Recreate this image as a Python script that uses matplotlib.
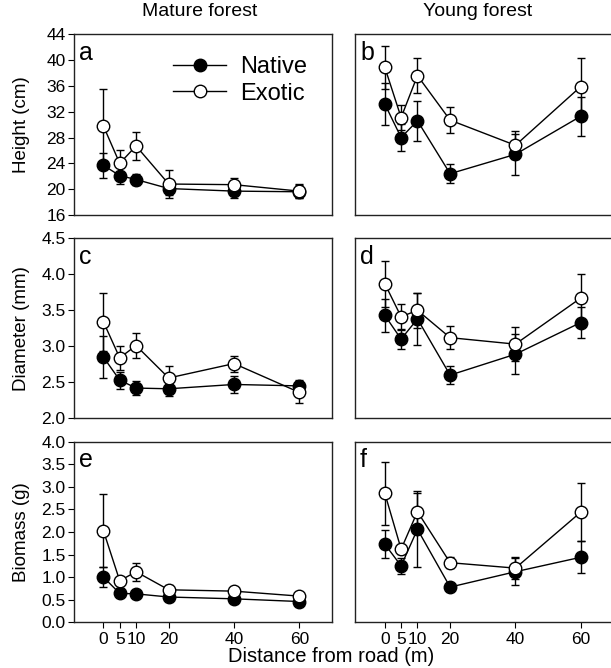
import matplotlib
matplotlib.use("Agg")
import matplotlib.pyplot as plt
from matplotlib.lines import Line2D

plt.rcParams['font.family'] = ['Liberation Sans', 'DejaVu Sans']

# distance from road (m)
distance = [0, 5, 10, 20, 40, 60]

# Height (cm)
height_mature_native = [23.7, 22.1, 21.5, 20.1, 19.7, 19.6]
height_mature_native_se = [1.9, 1.3, 0.9, 1.0, 1.0, 1.0]
height_mature_exotic = [29.8, 24.0, 26.7, 20.8, 20.7, 19.7]
height_mature_exotic_se = [5.7, 2.1, 2.2, 2.1, 1.1, 1.1]
height_young_native = [33.2, 28.0, 30.6, 22.4, 25.4, 31.3]
height_young_native_se = [3.2, 2.1, 3.1, 1.5, 3.2, 3.0]
height_young_exotic = [38.9, 31.1, 37.6, 30.7, 26.8, 35.9]
height_young_exotic_se = [3.3, 2.0, 2.7, 2.0, 2.2, 4.5]

# Diameter (mm)
diam_mature_native = [2.85, 2.53, 2.42, 2.41, 2.47, 2.45]
diam_mature_native_se = [0.29, 0.12, 0.10, 0.10, 0.12, 0.08]
diam_mature_exotic = [3.34, 2.84, 3.01, 2.56, 2.76, 2.36]
diam_mature_exotic_se = [0.40, 0.17, 0.17, 0.17, 0.11, 0.15]
diam_young_native = [3.43, 3.10, 3.38, 2.60, 2.89, 3.33]
diam_young_native_se = [0.23, 0.14, 0.36, 0.13, 0.28, 0.22]
diam_young_exotic = [3.87, 3.41, 3.50, 3.12, 3.03, 3.67]
diam_young_exotic_se = [0.32, 0.18, 0.24, 0.16, 0.24, 0.34]

# Biomass (g)
bio_mature_native = [1.00, 0.64, 0.63, 0.56, 0.52, 0.46]
bio_mature_native_se = [0.22, 0.06, 0.05, 0.05, 0.05, 0.05]
bio_mature_exotic = [2.03, 0.92, 1.12, 0.72, 0.69, 0.58]
bio_mature_exotic_se = [0.81, 0.08, 0.20, 0.10, 0.06, 0.05]
bio_young_native = [1.73, 1.25, 2.06, 0.78, 1.12, 1.44]
bio_young_native_se = [0.31, 0.18, 0.84, 0.05, 0.30, 0.35]
bio_young_exotic = [2.86, 1.62, 2.45, 1.32, 1.20, 2.44]
bio_young_exotic_se = [0.70, 0.10, 0.42, 0.12, 0.24, 0.65]

panels = [
    ('a', height_mature_native, height_mature_native_se, height_mature_exotic, height_mature_exotic_se),
    ('b', height_young_native, height_young_native_se, height_young_exotic, height_young_exotic_se),
    ('c', diam_mature_native, diam_mature_native_se, diam_mature_exotic, diam_mature_exotic_se),
    ('d', diam_young_native, diam_young_native_se, diam_young_exotic, diam_young_exotic_se),
    ('e', bio_mature_native, bio_mature_native_se, bio_mature_exotic, bio_mature_exotic_se),
    ('f', bio_young_native, bio_young_native_se, bio_young_exotic, bio_young_exotic_se),
]

ylims = [(16, 44), (2.0, 4.5), (0, 4.0)]
yticks = [[16, 20, 24, 28, 32, 36, 40, 44],
          [2.0, 2.5, 3.0, 3.5, 4.0, 4.5],
          [0.0, 0.5, 1.0, 1.5, 2.0, 2.5, 3.0, 3.5, 4.0]]
yfmt = ['{:.0f}', '{:.1f}', '{:.1f}']
ylabels = ['Height (cm)', 'Diameter (mm)', 'Biomass (g)']

W, H = 611, 668
fig = plt.figure(figsize=(W / 100, H / 100), dpi=100)

col_x = [(74, 332), (355.4, 613.4)]
row_y = [(34.3, 215), (238.3, 418.3), (441.7, 622.3)]

for i, (letter, nat, nat_se, exo, exo_se) in enumerate(panels):
    row, col = divmod(i, 2)
    x0, x1 = col_x[col]
    y0, y1 = row_y[row]
    ax = fig.add_axes([x0 / W, (H - y1) / H, (x1 - x0) / W, (y1 - y0) / H])

    ax.errorbar(distance, nat, yerr=nat_se, fmt='-o', color='black', mfc='black', mec='black',
                ms=9, lw=1, elinewidth=1, capsize=3, capthick=1, zorder=2)
    ax.errorbar(distance, exo, yerr=exo_se, fmt='-o', color='black', mfc='white', mec='black',
                ms=9, lw=1, elinewidth=1, capsize=3, capthick=1, zorder=3)

    ax.set_xlim(-9, 70)
    ax.set_ylim(*ylims[row])
    for s in ax.spines.values():
        s.set_linewidth(1)
        s.set_color('#222222')

    ax.text(0.018, 0.858, letter, transform=ax.transAxes, ha='left', va='baseline', fontsize=18)

    if col == 0:
        ax.set_yticks(yticks[row])
        ax.set_yticklabels([yfmt[row].format(v) for v in yticks[row]])
        ax.set_ylabel(ylabels[row], fontsize=13.5)
        ax.yaxis.set_label_coords(-0.17, 0.5)
        ax.tick_params(axis='y', direction='out', length=4, labelsize=12.5, pad=2)
    else:
        ax.set_yticks([])

    if row == 2:
        ax.set_xticks(distance)
        ax.set_xticklabels([str(d) for d in distance])
        ax.tick_params(axis='x', direction='out', length=4, labelsize=12.5, pad=3)
    else:
        ax.set_xticks([])

    if letter == 'a':
        handles = [
            Line2D([], [], color='black', marker='o', mfc='black', mec='black', ms=9, lw=1),
            Line2D([], [], color='black', marker='o', mfc='white', mec='black', ms=9, lw=1),
        ]
        ax.legend(handles, ['Native', 'Exotic'], loc='upper left', frameon=False, fontsize=17,
                  handlelength=2.25, handletextpad=0.6, borderaxespad=0, borderpad=0,
                  labelspacing=0.2, bbox_to_anchor=(0.385, 0.88))

fig.text(200 / W, 1 - 12 / H, 'Mature forest', ha='center', va='center', fontsize=14)
fig.text(478 / W, 1 - 12 / H, 'Young forest', ha='center', va='center', fontsize=14)
fig.text(331 / W, 1 - 656 / H, 'Distance from road (m)', ha='center', va='center', fontsize=14.5)

fig.savefig('out.png', dpi=100)
